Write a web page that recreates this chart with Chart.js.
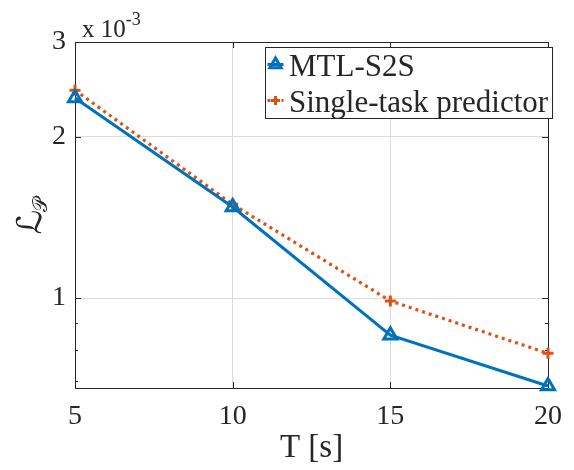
<!DOCTYPE html>
<html>
<head>
<meta charset="utf-8">
<script src="https://cdn.jsdelivr.net/npm/chart.js@4/dist/chart.umd.min.js"></script>
<style>
  body { margin: 0; background: #fff; }
  #wrap { width: 574px; height: 470px; }
</style>
</head>
<body>
<div id="wrap"><canvas id="chart" width="574" height="470"></canvas></div>
<script>
// horizon lengths and loss values (in units of 1e-3)
const horizons = [5, 10, 15, 20];
const lossMtl = [2.36, 1.478, 0.853, 0.686];
const lossSingle = [2.44, 1.495, 0.988, 0.789];
const yMajorTicks = [1, 2, 3];
const yMinorTicks = [0.7, 0.8, 0.9];
const xTicks = [5, 10, 15, 20];

const SERIF = '"Liberation Serif", "Times New Roman", serif';
const INK = '#262626';
const BLUE = '#0072BD';
const ORANGE = '#D95319';

// box, inward tick marks, exponent label and y title
const frame = {
  id: 'frame',
  beforeDatasetsDraw(chart) {
    const { ctx, chartArea: a, scales } = chart;
    const x = scales.x, y = scales.y;
    ctx.save();
    ctx.strokeStyle = INK;
    ctx.lineWidth = 1;
    ctx.beginPath();
    xTicks.forEach(v => {
      const px = Math.round(x.getPixelForValue(v)) + 0.5;
      ctx.moveTo(px, a.bottom); ctx.lineTo(px, a.bottom - 6);
      ctx.moveTo(px, a.top); ctx.lineTo(px, a.top + 6);
    });
    yMajorTicks.forEach(v => {
      const py = Math.round(y.getPixelForValue(v)) + 0.5;
      ctx.moveTo(a.left, py); ctx.lineTo(a.left + 6, py);
      ctx.moveTo(a.right, py); ctx.lineTo(a.right - 6, py);
    });
    yMinorTicks.forEach(v => {
      const py = Math.round(y.getPixelForValue(v)) + 0.5;
      ctx.moveTo(a.left, py); ctx.lineTo(a.left + 3, py);
      ctx.moveTo(a.right, py); ctx.lineTo(a.right - 3, py);
    });
    ctx.stroke();
    ctx.strokeRect(Math.round(a.left) + 0.5, Math.round(a.top) + 0.5,
      Math.round(a.right - a.left), Math.round(a.bottom - a.top));

    // exponent
    ctx.fillStyle = INK;
    ctx.textBaseline = 'alphabetic';
    ctx.textAlign = 'left';
    ctx.font = '25px ' + SERIF;
    ctx.fillText('x 10', a.left + 7, a.top - 5);
    const w = ctx.measureText('x 10').width;
    ctx.font = '18px ' + SERIF;
    ctx.fillText('-3', a.left + 7 + w, a.top - 17);

    // y title
    ctx.translate(31, (a.top + a.bottom) / 2);
    ctx.rotate(-Math.PI / 2);
    ctx.textAlign = 'left';
    ctx.font = '34px "DejaVu Serif", "DejaVu Sans", serif';
    const lw = ctx.measureText('\u2112').width;
    ctx.font = '20px "DejaVu Serif", "DejaVu Sans", serif';
    const pw = ctx.measureText('\u{1D4AB}').width;
    const start = -(lw + pw) / 2;
    ctx.font = '34px "DejaVu Serif", "DejaVu Sans", serif';
    ctx.fillText('\u2112', start, 10);
    ctx.font = '20px "DejaVu Serif", "DejaVu Sans", serif';
    ctx.fillText('\u{1D4AB}', start + lw - 2, 16);
    ctx.restore();
  },
  afterDatasetsDraw(chart) {
    const { ctx } = chart;
    const box = { x: 265.5, y: 47.5, w: 287, h: 71 };
    ctx.save();
    ctx.fillStyle = '#fff';
    ctx.fillRect(box.x, box.y, box.w, box.h);
    ctx.strokeStyle = INK;
    ctx.lineWidth = 1;
    ctx.strokeRect(box.x, box.y, box.w, box.h);
    chart.data.datasets.forEach((ds, i) => {
      const cy = box.y + 17 + i * 36;
      const cx = box.x + 10;
      ctx.strokeStyle = ds.borderColor;
      ctx.lineWidth = ds.borderWidth;
      ctx.setLineDash(ds.borderDash || []);
      ctx.beginPath();
      ctx.moveTo(cx - 8, cy); ctx.lineTo(cx + 8, cy);
      ctx.stroke();
      ctx.setLineDash([]);
      ctx.fillStyle = 'rgba(0,0,0,0)';
      ctx.lineWidth = ds.pointBorderWidth;
      Chart.helpers.drawPoint(ctx, {
        pointStyle: ds.pointStyle, radius: ds.pointRadius - 1,
        borderWidth: ds.pointBorderWidth, rotation: 0
      }, cx, cy);
      ctx.fillStyle = INK;
      ctx.font = '31px ' + SERIF;
      ctx.textBaseline = 'alphabetic';
      ctx.textAlign = 'left';
      ctx.fillText(ds.label, box.x + 23.5, cy + 11.5);
    });
    ctx.restore();
  }
};

new Chart(document.getElementById('chart'), {
  type: 'line',
  data: {
    datasets: [
      {
        label: 'MTL-S2S',
        data: horizons.map((t, i) => ({ x: t, y: lossMtl[i] })),
        borderColor: BLUE,
        borderWidth: 3,
        pointStyle: 'triangle',
        pointRadius: 7.5,
        pointBorderWidth: 3,
        pointBackgroundColor: 'rgba(0,0,0,0)',
        pointBorderColor: BLUE,
        tension: 0,
        clip: false
      },
      {
        label: 'Single-task predictor',
        data: horizons.map((t, i) => ({ x: t, y: lossSingle[i] })),
        borderColor: ORANGE,
        borderWidth: 3.2,
        borderDash: [3, 4],
        pointStyle: 'cross',
        pointRadius: 5.5,
        pointBorderWidth: 3,
        pointBorderColor: ORANGE,
        tension: 0,
        clip: false
      }
    ]
  },
  options: {
    responsive: false,
    animation: false,
    layout: { padding: { top: 42, right: 17, left: 0, bottom: 0 } },
    plugins: { legend: { display: false }, tooltip: { enabled: false } },
    scales: {
      x: {
        type: 'linear',
        min: 5, max: 20,
        afterFit: s => { s.height = 82; },
        afterBuildTicks: s => { s.ticks = xTicks.map(v => ({ value: v })); },
        border: { display: false },
        grid: { color: '#dcdcdc', drawTicks: false, lineWidth: 1 },
        ticks: { color: INK, padding: 12, font: { family: SERIF, size: 28 } },
        title: {
          display: true, text: 'T [s]', color: INK,
          font: { family: SERIF, size: 33 }, padding: { top: 0, bottom: 2 }
        }
      },
      y: {
        type: 'logarithmic',
        min: 0.68, max: 3,
        afterFit: s => { s.width = 75; },
        afterBuildTicks: s => { s.ticks = yMinorTicks.concat(yMajorTicks).map(v => ({ value: v })); },
        border: { display: false },
        grid: {
          drawTicks: false,
          color: c => yMajorTicks.includes(c.tick.value) ? '#dcdcdc' : 'rgba(0,0,0,0)'
        },
        ticks: {
          color: INK, padding: 9, font: { family: SERIF, size: 28 },
          callback: v => yMajorTicks.includes(v) ? String(v) : ''
        }
      }
    }
  },
  plugins: [frame]
});
</script>
</body>
</html>
